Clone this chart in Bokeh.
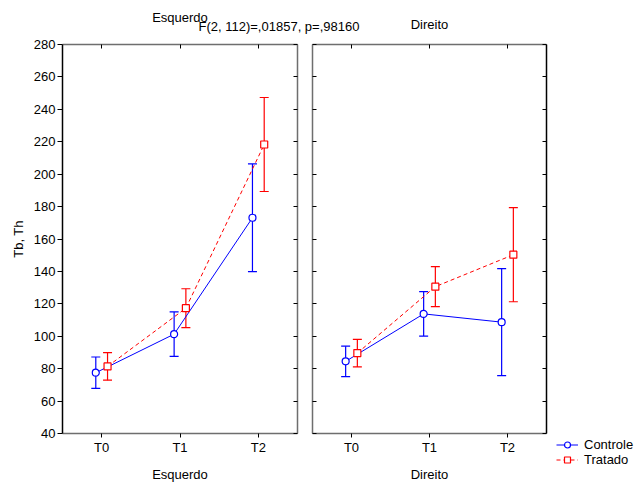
from bokeh.plotting import figure
from bokeh.models import (FactorRange, Range1d, LinearAxis, CategoricalAxis, FixedTicker,
                          ColumnDataSource, Whisker, TeeHead, Legend, LegendItem, Title)
from bokeh.transform import dodge
from bokeh.layouts import row, column
from bokeh.embed import file_html
from bokeh.resources import INLINE

# ---------------- data ----------------
categories = ["T0", "T1", "T2"]
panel_names = ["Esquerdo", "Direito"]
series_names = ["Controle", "Tratado"]
y_label = "Tb, Th"
stat_text = "F(2, 112)=,01857, p=,98160"
y_ticks = [40, 60, 80, 100, 120, 140, 160, 180, 200, 220, 240, 260, 280]

esq_controle = [77.5, 101.3, 173.1]
esq_controle_err = [9.7, 13.7, 33.2]
esq_tratado = [81.4, 117.3, 218.3]
esq_tratado_err = [8.5, 12.0, 29.0]

dir_controle = [84.5, 113.8, 108.7]
dir_controle_err = [9.4, 13.7, 33.0]
dir_tratado = [89.6, 130.6, 150.3]
dir_tratado_err = [8.5, 12.3, 29.0]

# ---------------- style ----------------
FONT = "Liberation Sans"
FS = "13px"
BLUE = "#0000ff"
RED = "#ff0000"
GRAY = "#6e6e6e"
OFF = 0.075
SERIES_STYLE = [(BLUE, "solid", "circle", -OFF), (RED, "4 3", "square", OFF)]


def style_axis(ax, line_color, labels=True, tick_in=0, tick_out=4):
    ax.axis_line_color = line_color
    ax.axis_line_width = 1.5
    ax.major_tick_line_color = "black"
    ax.major_tick_in = tick_in
    ax.major_tick_out = tick_out
    ax.minor_tick_line_color = None
    ax.major_label_text_font = FONT
    ax.major_label_text_font_size = FS
    ax.major_label_text_color = "black"
    ax.axis_label_text_font = FONT
    ax.axis_label_text_font_size = FS
    ax.axis_label_text_font_style = "normal"
    ax.axis_label_text_color = "black"
    if not labels:
        ax.major_label_text_alpha = 0
        ax.major_label_text_font_size = "1px"
        ax.major_label_standoff = 0


def make_panel(name, ctrl, ctrl_err, trat, trat_err, width, mb_left, mb_right, first):
    p = figure(width=width, height=484,
               x_range=FactorRange(*categories), y_range=Range1d(y_ticks[0], y_ticks[-1]),
               x_axis_location=None, y_axis_location=None,
               output_backend="svg", toolbar_location=None,
               min_border_left=mb_left, min_border_right=mb_right,
               min_border_top=44, min_border_bottom=50)
    p.grid.visible = False
    p.outline_line_color = None
    p.background_fill_color = "white"
    if first:
        p.border_fill_color = "white"
    else:
        p.border_fill_alpha = 0

    ticker = FixedTicker(ticks=y_ticks)

    bottom = CategoricalAxis(axis_label=name)
    style_axis(bottom, GRAY, labels=True, tick_out=4)
    bottom.major_label_standoff = 2
    bottom.axis_label_standoff = 9
    p.add_layout(bottom, "below")

    top = CategoricalAxis()
    style_axis(top, GRAY, labels=False, tick_in=4, tick_out=0)
    p.add_layout(top, "above")

    left = LinearAxis(ticker=ticker)
    right = LinearAxis(ticker=ticker)
    if first:
        style_axis(left, "black", labels=True, tick_out=5)
        left.major_label_standoff = 2
        left.axis_label = y_label
        left.axis_label_standoff = 5
        style_axis(right, GRAY, labels=False, tick_in=4, tick_out=0)
    else:
        style_axis(left, GRAY, labels=False, tick_in=4, tick_out=0)
        style_axis(right, "black", labels=False, tick_in=4, tick_out=0)
    p.add_layout(left, "left")
    p.add_layout(right, "right")

    sources = []
    for vals, errs, (color, dash, marker, off) in zip([ctrl, trat], [ctrl_err, trat_err], SERIES_STYLE):
        src = ColumnDataSource(dict(
            x=categories, mean=vals,
            upper=[v + e for v, e in zip(vals, errs)],
            lower=[v - e for v, e in zip(vals, errs)]))
        xs = dodge("x", off, range=p.x_range)
        p.line(x=xs, y="mean", source=src, line_color=color, line_width=1, line_dash=dash)
        w = Whisker(base=xs, upper="upper", lower="lower", source=src,
                    line_color=color, line_width=1.2,
                    upper_head=TeeHead(size=9, line_color=color, line_width=1.2),
                    lower_head=TeeHead(size=9, line_color=color, line_width=1.2))
        p.add_layout(w)
        p.scatter(x=xs, y="mean", source=src, marker=marker, size=7,
                  fill_color="white", line_color=color, line_width=1.2)
        sources.append(src)
    return p, sources


def title(text, standoff, align="center", offset=0):
    return Title(text=text, align=align, offset=offset, standoff=standoff,
                 text_font=FONT, text_font_size=FS, text_font_style="normal",
                 text_color="black")


p1, _ = make_panel(panel_names[0], esq_controle, esq_controle_err, esq_tratado, esq_tratado_err,
                   width=370, mb_left=62, mb_right=73, first=True)
p1.add_layout(title(stat_text, 22, "left", 136), "above")
p1.add_layout(title(panel_names[0], -38), "above")

p2, dir_sources = make_panel(panel_names[1], dir_controle, dir_controle_err, dir_tratado,
                             dir_tratado_err, width=330, mb_left=8, mb_right=88, first=False)
p2.margin = (0, 0, 0, -66)
p2.add_layout(title(panel_names[1], 26), "above")

# small legend canvas overlapping the bottom right corner
p3 = figure(width=81, height=30, x_range=p2.x_range, y_range=Range1d(0, 1),
            x_axis_location=None, y_axis_location=None,
            output_backend="svg", toolbar_location=None,
            min_border_left=0, min_border_right=0, min_border_top=0, min_border_bottom=0)
p3.grid.visible = False
p3.outline_line_color = None
p3.background_fill_alpha = 0
p3.border_fill_alpha = 0
items = []
for sname, src, (color, dash, marker, off) in zip(series_names, dir_sources, SERIES_STYLE):
    xs = dodge("x", off, range=p3.x_range)
    lr = p3.line(x=xs, y="mean", source=src, line_color=color, line_width=1, line_dash=dash)
    sr = p3.scatter(x=xs, y="mean", source=src, marker=marker, size=7,
                    fill_color="white", line_color=color, line_width=1.2)
    items.append(LegendItem(label=sname, renderers=[lr, sr]))

legend = Legend(items=items, location="top_left", orientation="vertical",
                label_text_font=FONT, label_text_font_size=FS, label_text_color="black",
                glyph_width=22, glyph_height=15, label_height=15, label_standoff=6,
                spacing=0, padding=0, margin=0,
                border_line_color=None, background_fill_alpha=0)
p3.add_layout(legend, "center")
p3.margin = (-47, 0, 0, 556)

layout = column(row(p1, p2), p3)
open("out.html", "w").write(file_html(layout, INLINE))
